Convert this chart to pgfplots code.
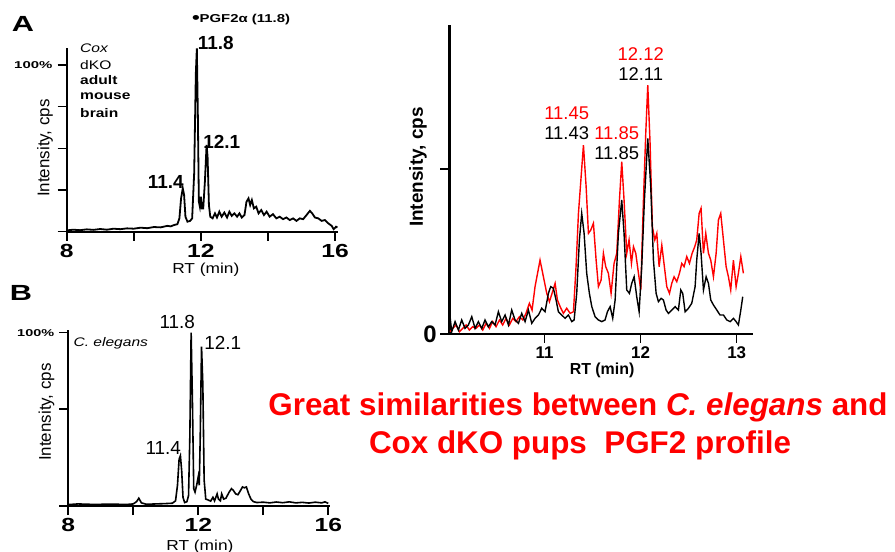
\documentclass[border=0pt]{standalone}
\usepackage{fontspec}
\setmainfont{Liberation Sans}
\usepackage{pgfplots}
\pgfplotsset{compat=1.18}
\definecolor{pgfred}{RGB}{255,0,0}
\newcommand{\fs}[1]{\fontsize{#1}{#1}\selectfont}

\pgfplotsset{
  chrom/.style={
    scale only axis, anchor=south west, clip=false,
    axis lines=left, axis line style={-, line width=2.2bp},
    tick align=outside, tick pos=left,
    major tick length=9bp,
    tick style={line width=1.6bp, black},
    /pgf/number format/assume math mode=true,
  },
}

\begin{document}
\begin{tikzpicture}
\fill[white] (0,0) rectangle (895bp,552bp);
\path[use as bounding box] (0,0) rectangle (895bp,552bp);

% panel A: Cox dKO adult mouse brain
\begin{axis}[chrom,
  at={(66.7bp,320.3bp)}, width=271.7bp, height=183.4bp,
  xmin=8, xmax=16.1, ymin=0, ymax=110,
  xtick={8,10,12,14,16}, xticklabels={8,,12,,16},
  ytick={0,25,50,75,100}, yticklabels={,,,,100\%},
  xticklabel style={font=\bfseries\fs{19}, xscale=1.3},
  yticklabel style={font=\bfseries\fs{10}, xscale=1.5},
  xlabel={RT (min)}, ylabel={Intensity, cps},
  xlabel style={font=\fs{14.5}, xscale=1.2, at={(axis description cs:0.512,-0.209)}, anchor=center},
  ylabel style={font=\fs{17}, at={(axis description cs:-0.080,0.456)}, anchor=center},
]
\addplot[black, line width=1.8bp] coordinates {
(8.0,0.8) (8.2,1.2) (8.4,0.9) (8.6,1.4) (8.8,1.1) (9.0,1.6) (9.2,1.2) (9.4,1.8)
(9.6,1.5) (9.8,2.0) (10.0,1.8) (10.2,2.4) (10.4,2.1) (10.6,2.8) (10.8,2.6) (11.0,3.5)
(11.1,3.2) (11.2,4.0) (11.3,4.5) (11.36,8) (11.41,20) (11.46,26) (11.5,22) (11.54,9)
(11.6,6) (11.68,6.5) (11.74,8) (11.8,35) (11.85,95) (11.88,110) (11.91,70) (11.94,18)
(11.97,15) (12.0,21) (12.03,14) (12.07,14) (12.12,30) (12.17,52) (12.2,45) (12.24,16)
(12.28,9) (12.35,8) (12.42,11) (12.48,8.5) (12.55,12) (12.62,9) (12.7,11.5) (12.78,8.5)
(12.85,12) (12.92,9.5) (13.0,11) (13.08,9) (13.15,11) (13.22,8.5) (13.3,10) (13.36,18)
(13.42,20) (13.47,16) (13.52,19) (13.58,14) (13.65,15) (13.72,11) (13.8,13) (13.88,10)
(13.96,12) (14.05,9) (14.15,10.5) (14.25,8) (14.35,9) (14.45,7.5) (14.55,8.5) (14.65,7)
(14.75,8) (14.85,6.5) (14.95,8) (15.05,7.5) (15.15,10) (15.25,12.5) (15.32,11) (15.4,8.5)
(15.5,8) (15.6,6.5) (15.7,7) (15.8,5) (15.9,3.5) (15.96,1.5) (16.03,3) (16.07,2.5)
};
\end{axis}

% panel B: C. elegans
\begin{axis}[chrom,
  at={(68.3bp,46bp)}, width=261.6bp, height=175.9bp,
  xmin=8, xmax=16.05, ymin=0, ymax=101.5,
  xtick={8,10,12,14,16}, xticklabels={8,,12,,16},
  ytick={0,55.8,100}, yticklabels={,,100\%},
  xticklabel style={font=\bfseries\fs{19}, xscale=1.3},
  yticklabel style={font=\bfseries\fs{10}, xscale=1.45},
  xlabel={RT (min)}, ylabel={Intensity, cps},
  xlabel style={font=\fs{14.5}, xscale=1.2, at={(axis description cs:0.503,-0.231)}, anchor=center},
  ylabel style={font=\fs{17}, at={(axis description cs:-0.083,0.534)}, anchor=center},
]
\addplot[black, line width=1.6bp] coordinates {
(8.0,0.8) (8.3,1.2) (8.6,1.0) (8.9,0.9) (9.2,1.1) (9.5,1.0) (9.8,0.9) (10.0,1.2)
(10.1,2.5) (10.17,4.5) (10.25,1.8) (10.4,1.0) (10.7,1.2) (11.0,1.4) (11.2,1.6) (11.3,3)
(11.36,12) (11.41,27) (11.45,29) (11.49,20) (11.53,5) (11.58,2) (11.65,2.5) (11.7,6)
(11.74,40) (11.78,100) (11.82,60) (11.86,10) (11.9,8) (11.95,12) (12.0,17) (12.03,12)
(12.06,40) (12.1,92) (12.14,70) (12.18,15) (12.23,4) (12.3,3.5) (12.38,2.8) (12.45,5)
(12.5,3) (12.58,7) (12.62,4) (12.68,3) (12.72,7) (12.78,4) (12.85,4.5) (12.95,8)
(13.02,10) (13.08,9) (13.15,7) (13.22,6.5) (13.3,9) (13.36,11) (13.42,10.5) (13.48,11)
(13.55,7) (13.62,4) (13.7,2.5) (13.8,2) (14.0,2.2) (14.2,1.8) (14.4,2.3) (14.6,1.9)
(14.8,2.4) (15.0,1.8) (15.2,2.1) (15.4,1.7) (15.6,2.2) (15.8,1.8) (15.9,2.4) (16.0,1.5)
};
\end{axis}

% right panel: overlay of both profiles
\begin{axis}[chrom,
  at={(449.3bp,218bp)}, width=303.7bp, height=309bp,
  axis line style={-, line width=2.8bp},
  xmin=10.007, xmax=13.17, ymin=0, ymax=1.873,
  xtick={11,12,13}, ytick={0,1}, yticklabels={0,},
  xticklabel style={font=\bfseries\fs{17}},
  yticklabel style={font=\bfseries\fs{24}},
  xlabel={RT (min)}, ylabel={Intensity, cps},
  xlabel style={font=\bfseries\fs{16}, at={(axis description cs:0.503,-0.1165)}, anchor=center},
  ylabel style={font=\bfseries\fs{19}, at={(axis description cs:-0.103,0.540)}, anchor=center},
]
\addplot[pgfred, line width=1.4bp] coordinates {
(10.015,0.014) (10.043,0.034) (10.077,0.055) (10.112,0.014) (10.147,0.034) (10.182,0.055)
(10.216,0.024) (10.251,0.044) (10.286,0.034) (10.320,0.055) (10.355,0.024) (10.390,0.065)
(10.425,0.034) (10.459,0.075) (10.494,0.044) (10.529,0.085) (10.563,0.055) (10.598,0.095)
(10.633,0.055) (10.668,0.095) (10.702,0.075) (10.737,0.105) (10.772,0.085) (10.806,0.125)
(10.841,0.186) (10.869,0.145) (10.900,0.287) (10.952,0.448) (10.994,0.327) (11.022,0.246)
(11.050,0.196) (11.077,0.246) (11.109,0.307) (11.133,0.206) (11.161,0.166) (11.195,0.125)
(11.230,0.156) (11.265,0.125) (11.300,0.135) (11.327,0.408) (11.352,0.731) (11.404,1.145)
(11.432,0.893) (11.456,0.610) (11.480,0.630) (11.508,0.671) (11.536,0.448) (11.560,0.287)
(11.588,0.327) (11.612,0.489) (11.636,0.408) (11.664,0.368) (11.692,0.246) (11.723,0.428)
(11.751,0.489) (11.779,0.812) (11.803,1.044) (11.827,0.812) (11.855,0.489) (11.879,0.570)
(11.904,0.428) (11.925,0.529) (11.949,0.489) (11.977,0.368) (12.001,0.267) (12.029,0.812)
(12.053,1.216) (12.074,1.509) (12.098,1.156) (12.122,0.651) (12.147,0.570) (12.168,0.610)
(12.192,0.408) (12.220,0.539) (12.247,0.408) (12.272,0.287) (12.300,0.246) (12.324,0.307)
(12.348,0.347) (12.376,0.317) (12.404,0.368) (12.428,0.428) (12.452,0.408) (12.480,0.469)
(12.508,0.428) (12.536,0.489) (12.563,0.529) (12.584,0.570) (12.609,0.731) (12.629,0.762)
(12.654,0.489) (12.678,0.610) (12.706,0.489) (12.730,0.448) (12.758,0.347) (12.786,0.489)
(12.810,0.691) (12.834,0.731) (12.862,0.570) (12.890,0.408) (12.914,0.347) (12.938,0.267)
(12.966,0.448) (12.994,0.287) (13.018,0.368) (13.043,0.469) (13.070,0.368)
};
\addplot[black, line width=1.4bp] coordinates {
(10.015,0.105) (10.032,0.014) (10.067,0.075) (10.102,0.024) (10.136,0.085) (10.171,0.034)
(10.206,0.055) (10.241,0.105) (10.275,0.034) (10.310,0.075) (10.345,0.034) (10.379,0.085)
(10.414,0.044) (10.449,0.075) (10.484,0.055) (10.518,0.135) (10.553,0.075) (10.588,0.115)
(10.623,0.055) (10.657,0.145) (10.692,0.085) (10.727,0.065) (10.761,0.125) (10.796,0.075)
(10.831,0.145) (10.866,0.065) (10.900,0.095) (10.935,0.115) (10.970,0.156) (11.004,0.135)
(11.039,0.246) (11.063,0.287) (11.091,0.277) (11.119,0.206) (11.143,0.135) (11.178,0.115)
(11.213,0.095) (11.248,0.115) (11.282,0.075) (11.307,0.085) (11.334,0.246) (11.362,0.570)
(11.386,0.731) (11.411,0.610) (11.438,0.368) (11.466,0.246) (11.491,0.166) (11.525,0.105)
(11.560,0.085) (11.595,0.075) (11.629,0.085) (11.654,0.135) (11.682,0.166) (11.709,0.095)
(11.734,0.206) (11.768,0.610) (11.803,0.812) (11.827,0.610) (11.855,0.267) (11.883,0.246)
(11.907,0.307) (11.932,0.347) (11.959,0.226) (11.984,0.135) (12.011,0.408) (12.039,0.812)
(12.074,1.186) (12.105,0.893) (12.133,0.448) (12.161,0.246) (12.185,0.196) (12.213,0.216)
(12.237,0.206) (12.265,0.145) (12.289,0.125) (12.324,0.145) (12.359,0.166) (12.393,0.145)
(12.418,0.267) (12.438,0.246) (12.463,0.135) (12.498,0.156) (12.532,0.186) (12.567,0.287)
(12.584,0.448) (12.609,0.610) (12.629,0.489) (12.654,0.267) (12.682,0.347) (12.706,0.307)
(12.730,0.206) (12.758,0.176) (12.793,0.145) (12.827,0.115) (12.862,0.115) (12.897,0.085)
(12.932,0.075) (12.966,0.095) (12.994,0.075) (13.018,0.055) (13.043,0.145) (13.063,0.226)
};
\end{axis}

% annotations, placed in image pixels (y downwards)
\begin{scope}[x=1bp, y=-1bp, shift={(0bp,552bp)}]
\node[font=\bfseries\fs{22}, xscale=1.4] at (23,23.5) {A};
\node[font=\bfseries\fs{22}, xscale=1.4] at (21,292.5) {B};
\node[font=\bfseries\fs{11.5}, xscale=1.3] at (241,20) {{\fs{17}\raisebox{-0.5pt}{\textbullet}}PGF2α (11.8)};
\node[font=\bfseries\fs{19}] at (215.7,43) {11.8};
\node[font=\bfseries\fs{19}] at (221.7,141.7) {12.1};
\node[font=\bfseries\fs{19}] at (165.7,181.7) {11.4};
\begin{scope}[every node/.style={anchor=west, inner sep=0pt, xscale=1.25}]
\node[font=\itshape\fs{12.5}] at (80,48.3) {Cox};
\node[font=\fs{12.5}] at (80,65) {dKO};
\node[font=\bfseries\fs{12.5}] at (80,80.5) {adult};
\node[font=\bfseries\fs{12.5}] at (80,96.7) {mouse};
\node[font=\bfseries\fs{12.5}] at (80,113) {brain};
\node[font=\itshape\fs{12.5}] at (73.3,343.3) {C. elegans};
\end{scope}
\node[font=\fs{19}] at (177.3,321.7) {11.8};
\node[font=\fs{19}] at (222.7,343.3) {12.1};
\node[font=\fs{19}] at (163.3,448.3) {11.4};
\node[font=\fs{18.5}, text=pgfred] at (640.7,54) {12.12};
\node[font=\fs{18.5}] at (640.7,74) {12.11};
\node[font=\fs{18.5}, text=pgfred] at (566.7,113) {11.45};
\node[font=\fs{18.5}] at (566.7,133) {11.43};
\node[font=\fs{18.5}, text=pgfred] at (616.7,133) {11.85};
\node[font=\fs{18.5}] at (616.7,153) {11.85};
\node[font=\bfseries\fs{31.5}, text=pgfred, anchor=base] at (578,416) {Great similarities between \textit{C. elegans} and};
\node[font=\bfseries\fs{31.5}, text=pgfred, anchor=base] at (580,454) {Cox dKO pups~ PGF2 profile};
\end{scope}
\end{tikzpicture}
\end{document}
